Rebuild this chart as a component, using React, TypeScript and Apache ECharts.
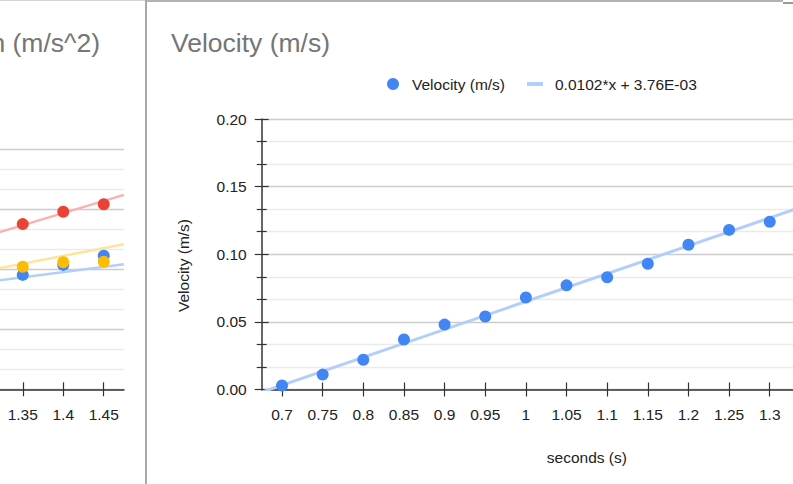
import React, { useEffect, useRef } from "react";
import * as echarts from "echarts";

const FONT = "'Liberation Sans', Arial, Helvetica, sans-serif";

// ---------- Right chart: Velocity (m/s) ----------
const timeSeconds = [0.7, 0.75, 0.8, 0.85, 0.9, 0.95, 1, 1.05, 1.1, 1.15, 1.2, 1.25, 1.3];
const velocity = [0.003, 0.011, 0.022, 0.037, 0.048, 0.054, 0.068, 0.077, 0.083, 0.093, 0.107, 0.118, 0.124];
const velocityTrendX = [0.675, 1.475];
const velocityTrendY = [-0.002, 0.163];
const velocityXTickLabels = ["0.7", "0.75", "0.8", "0.85", "0.9", "0.95", "1", "1.05", "1.1", "1.15", "1.2", "1.25", "1.3"];
const velocityYTickLabels = ["0.00", "0.05", "0.10", "0.15", "0.20"];
const velocityName = "Velocity (m/s)";
const velocityTrendName = "0.0102*x + 3.76E-03";

// ---------- Left chart: Acceleration (only its right part is in view) ----------
const accelTime = [1.35, 1.4, 1.45];
const accelBlue = [0.286, 0.311, 0.334];
const accelRed = [0.413, 0.444, 0.4625];
const accelYellow = [0.3065, 0.3175, 0.319];
const accelTrendX = [1.3, 1.475];
const accelBlueTrend = [0.267, 0.3125];
const accelRedTrend = [0.38, 0.486];
const accelYellowTrend = [0.295, 0.3625];
const accelXTickLabels = ["1.35", "1.4", "1.45"];

const BLUE = "#4285f4";
const BLUE_LIGHT = "#b3cefb";
const RED = "#ea4335";
const RED_LIGHT = "#f7b4ae";
const YELLOW = "#fbbc04";
const YELLOW_LIGHT = "#fee49d";
const AXIS = "#333333";
const LABEL = "#222222";
const MAJOR = "#cccccc";
const MINOR = "#ebebeb";
const LABEL_SIZE = 15.5;

function labelFor(labels: string[]) {
  const vals = labels.map(Number);
  return (v: number) => {
    const i = vals.findIndex((t) => Math.abs(t - v) < 1e-9);
    return i >= 0 ? labels[i] : String(v);
  };
}

function xAxes(min: number, max: number, labels: string[], extra: any = {}) {
  const vals = labels.map(Number);
  return [
    {
      type: "value",
      min,
      max,
      position: "bottom",
      axisLine: { show: true, onZero: false, lineStyle: { color: AXIS, width: 1.5 } },
      axisTick: { show: true, customValues: vals, length: 7, lineStyle: { color: AXIS, width: 1.2 } },
      axisLabel: {
        show: true,
        customValues: vals,
        formatter: labelFor(labels),
        margin: 17,
        color: LABEL,
        fontSize: LABEL_SIZE,
        fontFamily: FONT,
      },
      splitLine: { show: false },
      ...extra,
    },
    {
      type: "value",
      min,
      max,
      position: "bottom",
      axisLine: { show: false, onZero: false },
      axisTick: { show: true, inside: true, customValues: vals, length: 7, lineStyle: { color: AXIS, width: 1.2 } },
      axisLabel: { show: false },
      splitLine: { show: false },
    },
  ];
}

function yAxes(min: number, max: number, interval: number, fmt: ((v: number) => string) | null) {
  return [
    {
      type: "value",
      min,
      max,
      interval,
      position: "left",
      axisLine: { show: true, onZero: false, lineStyle: { color: AXIS, width: 1.5 } },
      axisTick: { show: true, length: 7, lineStyle: { color: AXIS, width: 1.2 } },
      minorTick: { show: true, splitNumber: 3, length: 5, lineStyle: { color: AXIS, width: 1.2 } },
      axisLabel: fmt
        ? { show: true, formatter: fmt, margin: 15, color: LABEL, fontSize: LABEL_SIZE, fontFamily: FONT }
        : { show: false },
      splitLine: { show: true, lineStyle: { color: MAJOR, width: 1.3 } },
      minorSplitLine: { show: true, lineStyle: { color: MINOR, width: 1.3 } },
    },
    {
      type: "value",
      min,
      max,
      interval,
      position: "left",
      axisLine: { show: false, onZero: false },
      axisTick: { show: true, inside: true, length: 7, lineStyle: { color: AXIS, width: 1.2 } },
      minorTick: { show: true, splitNumber: 3, length: 5, lineStyle: { color: AXIS, width: 1.2 } },
      axisLabel: { show: false },
      splitLine: { show: false },
      minorSplitLine: { show: false },
    },
  ];
}

function zip(xs: number[], ys: number[]) {
  return xs.map((x, i) => [x, ys[i]]);
}

function useChart(build: () => any) {
  const ref = useRef<HTMLDivElement>(null);
  useEffect(() => {
    if (!ref.current) return;
    const chart = echarts.init(ref.current, undefined, { renderer: "svg" });
    chart.setOption(build());
    return () => chart.dispose();
  }, []);
  return ref;
}

function velocityOption() {
  const yLabel = labelFor(velocityYTickLabels);
  return {
    animation: false,
    textStyle: { fontFamily: FONT },
    grid: { left: 113.7, right: 136, top: 119, bottom: 94.5 },
    xAxis: xAxes(0.675, 1.475, velocityXTickLabels, {
      name: "seconds (s)",
      nameLocation: "middle",
      nameGap: 60,
      nameTextStyle: { color: LABEL, fontSize: LABEL_SIZE, fontFamily: FONT },
    }),
    yAxis: yAxes(0, 0.2, 0.05, (v: number) => yLabel(v)),
    legend: [
      {
        left: 239,
        top: 76,
        padding: 0,
        itemWidth: 12,
        itemHeight: 12,
        data: [{ name: velocityName, icon: "circle" }],
        textStyle: { color: LABEL, fontSize: LABEL_SIZE, fontFamily: FONT, padding: [0, 0, 0, 8] },
      },
      {
        left: 379,
        top: 76,
        padding: 0,
        itemWidth: 16,
        itemHeight: 4,
        data: [{ name: velocityTrendName, icon: "rect" }],
        textStyle: { color: LABEL, fontSize: LABEL_SIZE, fontFamily: FONT, padding: [0, 0, 0, 7] },
      },
    ],
    graphic: [
      {
        type: "text",
        x: 23,
        y: 43,
        style: { text: "Velocity (m/s)", fill: "#757575", fontSize: 26.5, fontFamily: FONT, align: "left", verticalAlign: "middle" },
      },
      {
        type: "text",
        x: 35,
        y: 265.5,
        rotation: Math.PI / 2,
        style: { text: "Velocity (m/s)", fill: LABEL, fontSize: LABEL_SIZE, fontFamily: FONT, align: "center", verticalAlign: "middle" },
      },
    ],
    series: [
      {
        name: velocityTrendName,
        type: "line",
        data: zip(velocityTrendX, velocityTrendY),
        showSymbol: false,
        symbol: "none",
        clip: true,
        lineStyle: { color: BLUE_LIGHT, width: 3 },
        itemStyle: { color: BLUE_LIGHT },
        z: 2,
      },
      {
        name: velocityName,
        type: "scatter",
        data: zip(timeSeconds, velocity),
        symbolSize: 12,
        itemStyle: { color: BLUE, opacity: 1 },
        z: 3,
      },
    ],
  };
}

function accelOption() {
  return {
    animation: false,
    textStyle: { fontFamily: FONT },
    grid: { left: 139.25, right: 22, top: 149.3, bottom: 94.7 },
    xAxis: xAxes(1.0, 1.475, accelXTickLabels),
    yAxis: yAxes(0, 0.6, 0.15, null),
    graphic: [
      {
        type: "text",
        x: 500,
        y: 43,
        style: { text: "Acceleration (m/s^2)", fill: "#757575", fontSize: 26.5, fontFamily: FONT, align: "right", verticalAlign: "middle" },
      },
    ],
    series: [
      { type: "line", data: zip(accelTrendX, accelBlueTrend), symbol: "none", clip: true, lineStyle: { color: BLUE_LIGHT, width: 2.5 }, z: 2 },
      { type: "line", data: zip(accelTrendX, accelRedTrend), symbol: "none", clip: true, lineStyle: { color: RED_LIGHT, width: 2.5 }, z: 2 },
      { type: "line", data: zip(accelTrendX, accelYellowTrend), symbol: "none", clip: true, lineStyle: { color: YELLOW_LIGHT, width: 2.5 }, z: 2 },
      { type: "scatter", data: zip(accelTime, accelBlue), symbolSize: 12, itemStyle: { color: BLUE, opacity: 1 }, z: 3 },
      { type: "scatter", data: zip(accelTime, accelRed), symbolSize: 12, itemStyle: { color: RED, opacity: 1 }, z: 3 },
      { type: "scatter", data: zip(accelTime, accelYellow), symbolSize: 12, itemStyle: { color: YELLOW, opacity: 1 }, z: 3 },
    ],
  };
}

export default function App() {
  const leftRef = useChart(accelOption);
  const rightRef = useChart(velocityOption);
  return (
    <div
      style={{
        position: "fixed",
        left: 0,
        top: 0,
        width: 793,
        height: 484,
        overflow: "hidden",
        background: "#ffffff",
      }}
    >
      <div ref={leftRef} style={{ position: "absolute", left: -400, top: 0, width: 546, height: 484 }} />
      <div ref={rightRef} style={{ position: "absolute", left: 148, top: 0, width: 900, height: 484 }} />
      <div style={{ position: "absolute", left: 0, top: 0, width: 145, height: 1, background: "#d4d4d4" }} />
      <div style={{ position: "absolute", left: 145, top: 0, width: 2, height: 484, background: "#a8a8a8" }} />
      <div style={{ position: "absolute", left: 147, top: 0, width: 636, height: 2, background: "#b3b3b3" }} />
      <div style={{ position: "absolute", left: 783, top: 2, width: 10, height: 1.5, background: "#9a9a9a" }} />
    </div>
  );
}
